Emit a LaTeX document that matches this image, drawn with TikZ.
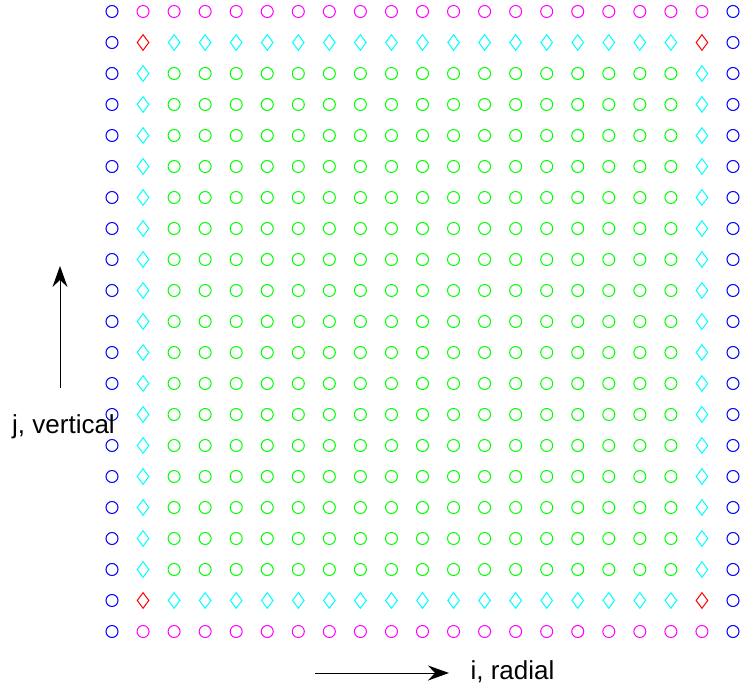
\documentclass[tikz,border=0pt]{standalone}
\usepackage{fontspec}
\setmainfont{Liberation Sans}
\usetikzlibrary{shapes.geometric,arrows.meta}
\definecolor{cblue}{RGB}{0,0,255}
\definecolor{cmag}{RGB}{255,0,255}
\definecolor{cgreen}{RGB}{0,255,0}
\definecolor{ccyan}{RGB}{0,255,255}
\definecolor{cred}{RGB}{255,0,0}
\begin{document}
\begin{tikzpicture}[x=1pt,y=-1pt,
  cellc/.style={draw, line width=1pt, inner sep=0pt, minimum size=12pt, circle},
  bluecell/.style={cellc, draw=cblue},
  magcell/.style={cellc, draw=cmag},
  greencell/.style={cellc, draw=cgreen},
  celld/.style={draw, line width=1pt, inner sep=0pt, diamond, minimum width=12pt, minimum height=16pt},
  cyandia/.style={celld, draw=ccyan},
  reddia/.style={celld, draw=cred},
  lbl/.style={font=\fontsize{26}{31}\selectfont, inner sep=0pt, anchor=base},
  ax/.style={-{Stealth[length=21pt,width=15pt,inset=7pt]}, line width=1pt}
]
\useasboundingbox (0,0) rectangle (740,690);
% boundary columns
\foreach \i in {0,20} {
  \foreach \j in {0,...,20} {
    \node[bluecell] (n\i-\j) at ({112+31.05*\i},{11.5+31*\j}) {};
  }
}
% top and bottom rows
\foreach \j in {0,20} {
  \foreach \i in {1,...,19} {
    \node[magcell] (n\i-\j) at ({112+31.05*\i},{11.5+31*\j}) {};
  }
}
% corner diamonds
\foreach \i in {1,19} {
  \foreach \j in {1,19} {
    \node[reddia] (n\i-\j) at ({112+31.05*\i},{11.5+31*\j}) {};
  }
}
% edge diamonds along rows 1 and 19
\foreach \j in {1,19} {
  \foreach \i in {2,...,18} {
    \node[cyandia] (n\i-\j) at ({112+31.05*\i},{11.5+31*\j}) {};
  }
}
% edge diamonds along cols 1 and 19
\foreach \i in {1,19} {
  \foreach \j in {2,...,18} {
    \node[cyandia] (n\i-\j) at ({112+31.05*\i},{11.5+31*\j}) {};
  }
}
% interior
\foreach \i in {2,...,18} {
  \foreach \j in {2,...,18} {
    \node[greencell] (n\i-\j) at ({112+31.05*\i},{11.5+31*\j}) {};
  }
}
% axes
\coordinate (vs) at (60,388);
\coordinate (ve) at (60,266);
\draw[ax] (vs) -- (ve);
\node[lbl] (jl) at (63.5,433) {j, vertical};
\coordinate (hs) at (315,673);
\coordinate (he) at (449,673);
\draw[ax] (hs) -- (he);
\node[lbl] (il) at (512.5,679) {i, radial};
\end{tikzpicture}
\end{document}
